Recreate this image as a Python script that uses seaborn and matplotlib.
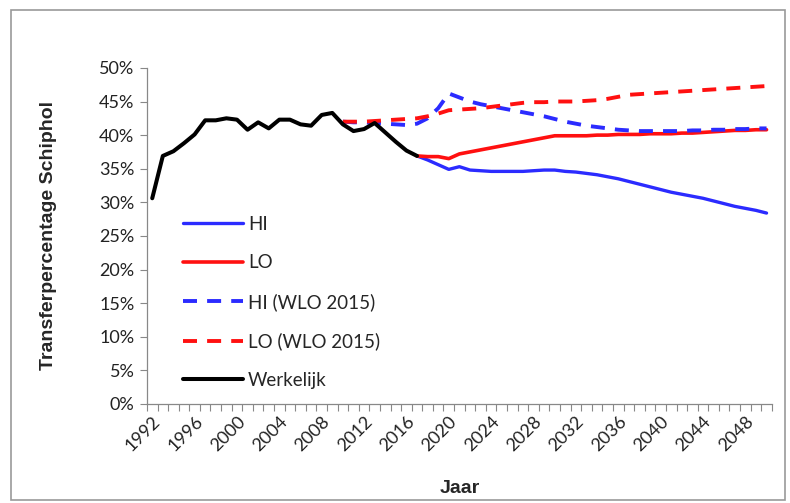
import numpy as np
import pandas as pd
import matplotlib
matplotlib.use("Agg")
import matplotlib.pyplot as plt
import seaborn as sns
from matplotlib.ticker import FixedLocator, FuncFormatter
from matplotlib.patches import Rectangle

sns.set_theme(style="white")
plt.rcParams['font.family'] = ['Lato', 'DejaVu Sans']

# Werkelijk (realised), 1992-2017
years_real = list(range(1992, 2018))
werkelijk = [30.6, 36.9, 37.6, 38.8, 40.1, 42.2, 42.2, 42.5, 42.3, 40.8,
             41.9, 41.0, 42.3, 42.3, 41.6, 41.4, 43.0, 43.3, 41.6, 40.6,
             40.9, 41.8, 40.4, 39.0, 37.7, 36.9]

# HI / LO scenarios, 2017-2050
years_scen = list(range(2017, 2051))
hi = [36.9, 36.3, 35.6, 34.9, 35.3, 34.8, 34.7, 34.6, 34.6, 34.6,
      34.6, 34.7, 34.8, 34.8, 34.6, 34.5, 34.3, 34.1, 33.8, 33.5,
      33.1, 32.7, 32.3, 31.9, 31.5, 31.2, 30.9, 30.6, 30.2, 29.8,
      29.4, 29.1, 28.8, 28.4]
lo = [36.9, 36.8, 36.8, 36.5, 37.2, 37.5, 37.8, 38.1, 38.4, 38.7,
      39.0, 39.3, 39.6, 39.9, 39.9, 39.9, 39.9, 40.0, 40.0, 40.1,
      40.1, 40.1, 40.2, 40.2, 40.2, 40.3, 40.3, 40.4, 40.5, 40.6,
      40.7, 40.7, 40.8, 40.8]

# WLO 2015 scenarios, 2010-2050
years_wlo = list(range(2010, 2051))
hi_wlo = [42.0, 41.9, 41.9, 41.8, 41.7, 41.6, 41.5, 41.7, 42.5, 44.0,
          46.2, 45.6, 45.0, 44.6, 44.3, 44.0, 43.7, 43.4, 43.1, 42.8,
          42.4, 42.0, 41.7, 41.4, 41.2, 41.0, 40.8, 40.7, 40.6, 40.6,
          40.6, 40.6, 40.6, 40.7, 40.7, 40.8, 40.8, 40.9, 40.9, 41.0,
          41.0]
lo_wlo = [42.0, 42.0, 42.0, 42.1, 42.2, 42.3, 42.4, 42.5, 42.8, 43.2,
          43.7, 43.8, 43.9, 44.0, 44.2, 44.4, 44.6, 44.8, 44.9, 44.9,
          45.0, 45.0, 45.0, 45.1, 45.2, 45.4, 45.7, 46.0, 46.1, 46.2,
          46.3, 46.4, 46.5, 46.6, 46.7, 46.8, 46.9, 47.0, 47.1, 47.2,
          47.3]

blue = '#2b2bff'
red = '#ff1010'

fig = plt.figure(figsize=(7.9, 5.03), dpi=100)
ax = fig.add_axes([0.186, 0.197, 0.791, 0.668])

sns.lineplot(x=years_scen, y=np.array(hi) / 100, ax=ax, color=blue, lw=2.4, label='HI')
sns.lineplot(x=years_scen, y=np.array(lo) / 100, ax=ax, color=red, lw=2.6, label='LO')
sns.lineplot(x=years_wlo, y=np.array(hi_wlo) / 100, ax=ax, color=blue, lw=2.8,
             label='HI (WLO 2015)').lines[-1].set_dashes((3.6, 2.6))
sns.lineplot(x=years_wlo, y=np.array(lo_wlo) / 100, ax=ax, color=red, lw=2.8,
             label='LO (WLO 2015)').lines[-1].set_dashes((3.6, 2.6))
sns.lineplot(x=years_real, y=np.array(werkelijk) / 100, ax=ax, color='black', lw=2.9,
             label='Werkelijk')

ax.set_xlim(1991.5, 2050.5)
ax.set_ylim(0, 0.5)
ax.set_yticks(np.arange(0, 0.501, 0.05))
ax.yaxis.set_major_formatter(FuncFormatter(lambda v, p: f"{v * 100:.0f}%"))
ax.set_xticks(range(1992, 2050, 4))
ax.xaxis.set_minor_locator(FixedLocator(np.arange(1991.5, 2051, 1)))
ax.tick_params(axis='x', which='major', length=0, labelsize=13, labelcolor='#222222',
               rotation=45, pad=7)
for t in ax.get_xticklabels():
    t.set_ha('right')
    t.set_rotation_mode('anchor')
ax.tick_params(axis='x', which='minor', length=5, width=0.8, color='#888888', bottom=True)
ax.tick_params(axis='y', which='major', length=5, width=0.8, color='#888888', left=True,
               labelsize=13, labelcolor='#222222', pad=4)

for s in ['top', 'right']:
    ax.spines[s].set_visible(False)
for s in ['left', 'bottom']:
    ax.spines[s].set_color('#888888')
    ax.spines[s].set_linewidth(0.9)

ax.set_ylabel('Transferpercentage Schiphol', fontsize=14, fontweight='bold',
              family='Liberation Sans', labelpad=30)
ax.set_xlabel('Jaar', fontsize=14, fontweight='bold', family='Liberation Sans', labelpad=18)

leg = ax.legend(loc='lower left', bbox_to_anchor=(0.03, -0.005), frameon=False, fontsize=13.5,
                handlelength=3.2, labelspacing=1.15, handletextpad=0.3)

fig.patches.append(Rectangle((0.014, 0.006), 0.98, 0.974, transform=fig.transFigure,
                             fill=False, edgecolor='#999999', lw=1.2))

fig.savefig('out.png', dpi=100)
